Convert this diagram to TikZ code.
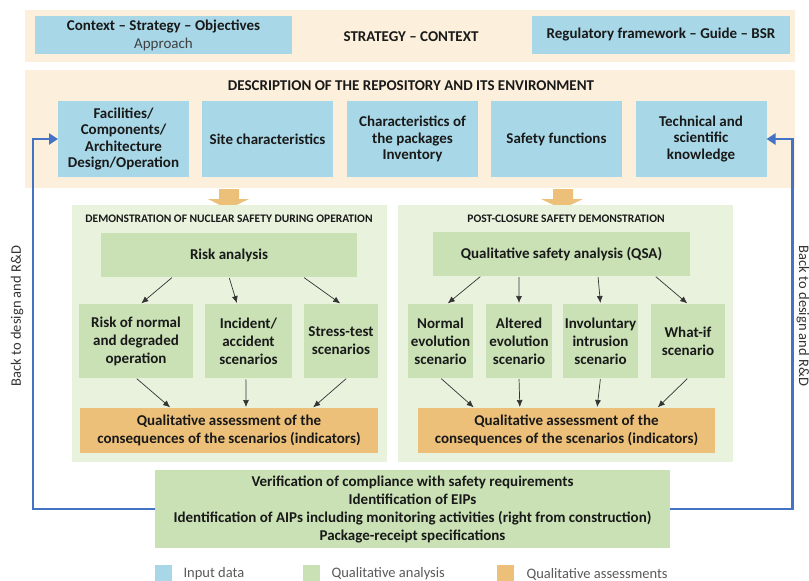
\documentclass[tikz,border=0pt]{standalone}
\usepackage{fontspec}
\setmainfont{Carlito}
\usetikzlibrary{arrows.meta,calc}
\definecolor{bandbeige}{RGB}{252,240,220}
\definecolor{inblue}{RGB}{168,216,232}
\definecolor{panelgreen}{RGB}{233,242,221}
\definecolor{anagreen}{RGB}{201,225,181}
\definecolor{assorange}{RGB}{237,192,122}
\definecolor{loopblue}{RGB}{68,114,196}
\definecolor{txtgray}{RGB}{89,89,89}
\tikzset{
	box/.style={draw=none,outer sep=0pt,inner sep=1pt,align=center,text=black!90,
		font=\bfseries\fontsize{15}{18}\selectfont},
	inbox/.style={box,fill=inblue},
	anabox/.style={box,fill=anagreen},
	assbox/.style={box,fill=assorange},
	band/.style={fill=bandbeige},
	panel/.style={fill=panelgreen},
	link/.style={-{Latex[length=7pt,width=6pt]},line width=0.7pt,draw=black!80,
		shorten <=1pt,shorten >=1pt},
	backloop/.style={-{Triangle[length=9pt,width=11pt]},line width=2.6pt,draw=loopblue},
	legsq/.style={minimum size=17pt,inner sep=0pt,outer sep=0pt},
	legtext/.style={anchor=west,text=txtgray,font=\fontsize{14.5}{16}\selectfont},
}
\begin{document}
\begin{tikzpicture}[x=1pt,y=-1pt]
	\useasboundingbox (0,0) rectangle (809,581);

	%strategy - context band
	\fill[band] (25,10) rectangle (795,62);
	\node[inbox,minimum width=257,minimum height=38] (ctx) at (163.5,35)
		{Context -- Strategy -- Objectives\\{\mdseries\color{black!75}Approach}};
	\node[box] (strat) at (411,37) {STRATEGY -- CONTEXT};
	\node[inbox,minimum width=258,minimum height=38] (reg) at (661,35)
		{Regulatory framework -- Guide -- BSR};

	%description band
	\fill[band] (25,70) rectangle (795,188);
	\node[box] (desc) at (411,86) {DESCRIPTION OF THE REPOSITORY AND ITS ENVIRONMENT};
	\node[inbox,minimum width=131,minimum height=76,font=\bfseries\fontsize{15}{16.5}\selectfont]
		(fac) at (123.5,139) {Facilities/\\Components/\\Architecture\\Design/Operation};
	\node[inbox,minimum width=131,minimum height=76] (site) at (267.5,139) {Site characteristics};
	\node[inbox,minimum width=131,minimum height=76,font=\bfseries\fontsize{15}{16.5}\selectfont]
		(pack) at (412.5,139) {Characteristics of\\the packages\\Inventory};
	\node[inbox,minimum width=131,minimum height=76] (safe) at (556.5,139) {Safety functions};
	\node[inbox,minimum width=131,minimum height=76,font=\bfseries\fontsize{15}{16.5}\selectfont]
		(tech) at (701,139) {Technical and\\scientific\\knowledge};

	%block arrows
	\fill[assorange] (219,189) -- (239,189) -- (239,199) -- (249,199) -- (228,209)
		-- (208,199) -- (219,199) -- cycle; %operation arrow
	\fill[assorange] (553,189) -- (573,189) -- (573,199) -- (583,199) -- (562,209)
		-- (541,199) -- (553,199) -- cycle; %post-closure arrow

	%panels
	\fill[panel] (72,205) rectangle (387,462); %operation
	\fill[panel] (398,205) rectangle (733,462); %post-closure
	\node[box,font=\bfseries\fontsize{11.5}{13}\selectfont] (optitle) at (229,219)
		{DEMONSTRATION OF NUCLEAR SAFETY DURING OPERATION};
	\node[box,font=\bfseries\fontsize{11.5}{13}\selectfont] (pctitle) at (566,219)
		{POST-CLOSURE SAFETY DEMONSTRATION};

	%operation boxes
	\node[anabox,minimum width=256,minimum height=44] (risk) at (229,255) {Risk analysis};
	\node[anabox,minimum width=114,minimum height=74] (riskn) at (136,341)
		{Risk of normal\\and degraded\\operation};
	\node[anabox,minimum width=87,minimum height=74] (incid) at (248.5,341)
		{Incident/\\accident\\scenarios};
	\node[anabox,minimum width=74,minimum height=74] (stress) at (341,341)
		{Stress-test\\scenarios};
	\node[assbox,minimum width=298,minimum height=45] (assl) at (229,430.5)
		{Qualitative assessment of the\\consequences of the scenarios (indicators)};

	%post-closure boxes
	\node[anabox,minimum width=257,minimum height=44] (qsa) at (561.5,254)
		{Qualitative safety analysis (QSA)};
	\node[anabox,minimum width=65,minimum height=74] (normev) at (440.5,341)
		{Normal\\evolution\\scenario};
	\node[anabox,minimum width=66,minimum height=74] (altev) at (519,341)
		{Altered\\evolution\\scenario};
	\node[anabox,minimum width=75,minimum height=74] (invol) at (600.5,341)
		{Involuntary\\intrusion\\scenario};
	\node[anabox,minimum width=74,minimum height=74] (whatif) at (688,341)
		{What-if\\scenario};
	\node[assbox,minimum width=297,minimum height=45] (assr) at (566.5,430.5)
		{Qualitative assessment of the\\consequences of the scenarios (indicators)};

	%operation arrows
	\draw[link] ($(risk.south west)!0.28!(risk.south east)$) -- ($(riskn.north west)!0.54!(riskn.north east)$);
	\draw[link] ($(risk.south west)!0.5!(risk.south east)$) -- ($(incid.north west)!0.37!(incid.north east)$);
	\draw[link] ($(risk.south west)!0.79!(risk.south east)$) -- (stress.north);
	\draw[link] (riskn.south) -- ($(assl.north west)!0.305!(assl.north east)$);
	\draw[link] ($(incid.south west)!0.47!(incid.south east)$) -- ($(assl.north west)!0.557!(assl.north east)$);
	\draw[link] ($(stress.south west)!0.58!(stress.south east)$) -- ($(assl.north west)!0.78!(assl.north east)$);

	%post-closure arrows
	\draw[link] ($(qsa.south west)!0.187!(qsa.south east)$) -- ($(normev.north west)!0.6!(normev.north east)$);
	\draw[link] ($(qsa.south west)!0.335!(qsa.south east)$) -- (altev.north);
	\draw[link] ($(qsa.south west)!0.642!(qsa.south east)$) -- (invol.north);
	\draw[link] ($(qsa.south west)!0.864!(qsa.south east)$) -- (whatif.north);
	\draw[link] (normev.south) -- ($(assr.north west)!0.19!(assr.north east)$);
	\draw[link] (altev.south) -- ($(assr.north west)!0.343!(assr.north east)$);
	\draw[link] (invol.south) -- ($(assr.north west)!0.603!(assr.north east)$);
	\draw[link] (whatif.south) -- ($(assr.north west)!0.805!(assr.north east)$);

	%verification box
	\node[anabox,minimum width=515,minimum height=78] (verif) at (412.5,509)
		{Verification of compliance with safety requirements\\Identification of EIPs\\
		Identification of AIPs including monitoring activities (right from construction)\\
		Package-receipt specifications};

	%back to design loops
	\draw[backloop] (verif.west) -| ([xshift=-25]fac.west) -- (fac.west); %left loop
	\draw[backloop] (verif.east) -| ([xshift=26]tech.east) -- (tech.east); %right loop
	\node[rotate=90,text=black!80,font=\fontsize{14.5}{16}\selectfont] (backl) at (17,316)
		{Back to design and R\&D};
	\node[rotate=-90,text=black!80,font=\fontsize{14.5}{16}\selectfont] (backr) at (803,316)
		{Back to design and R\&D};

	%legend
	\node[legsq,fill=inblue] (leg1) at (163.5,573.5) {};
	\node[legtext] (legt1) at (180,574) {Input data};
	\node[legsq,fill=anagreen] (leg2) at (311.5,573.5) {};
	\node[legtext] (legt2) at (328,574) {Qualitative analysis};
	\node[legsq,fill=assorange] (leg3) at (505.5,573.5) {};
	\node[legtext] (legt3) at (523,574) {Qualitative assessments};
\end{tikzpicture}
\end{document}
